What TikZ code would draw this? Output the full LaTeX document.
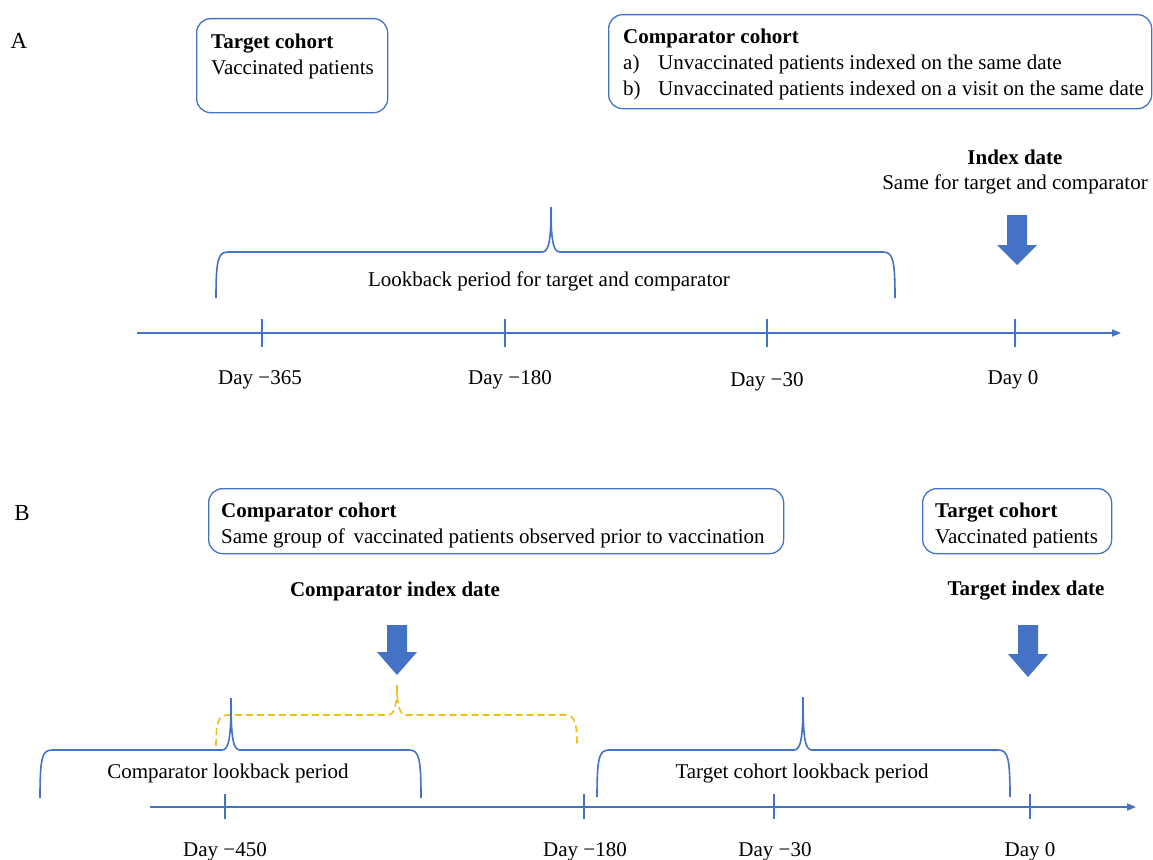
\documentclass[tikz,border=0pt]{standalone}
\usepackage{fontspec}
\setmainfont{Liberation Serif}
\usetikzlibrary{arrows.meta}
\definecolor{oblue}{HTML}{4472C4}
\definecolor{oyellow}{HTML}{F2BE16}
\tikzset{
  x=1pt,y=-1pt,
  txt/.style={font=\fontsize{21}{26}\selectfont, inner sep=0pt, text=black},
  btxt/.style={txt, font=\fontsize{21}{26}\selectfont\bfseries},
  cbox/.style={draw=oblue, line width=1.3pt, rounded corners=14pt},
  axis/.style={draw=oblue, line width=1.8pt, -{Triangle[length=9pt,width=7pt]}},
  tick/.style={draw=oblue, line width=1.5pt},
  brace/.style={draw=oblue, line width=1.6pt},
  ybrace/.style={draw=oyellow, line width=1.6pt, dash pattern=on 7pt off 4pt},
  barrow/.style={fill=oblue},
}
\newcommand{\bracepath}[6]{% xl yb yh xt yt xr
  (#1,#2) .. controls (#1,#3+8) and (#1+2,#3) .. (#1+12,#3) -- (#4-9,#3)
  .. controls (#4-2,#3) and (#4,#3-12) .. (#4,#5)
  .. controls (#4,#3-12) and (#4+2,#3) .. (#4+9,#3) -- (#6-12,#3)
  .. controls (#6-2,#3) and (#6,#3+8) .. (#6,#2)}
\newcommand{\blockarrow}[4]{% xc ytop yshaftend ytip
  (#1-10,#2) -- (#1+10,#2) -- (#1+10,#3) -- (#1+20,#3) -- (#1,#4) -- (#1-20,#3) -- (#1-10,#3) -- cycle}
\begin{document}
\begin{tikzpicture}
\useasboundingbox (0,0) rectangle (1153,859);
% ---------- Panel A ----------
\node[txt, font=\fontsize{23}{26}\selectfont] (labA) at (19,41) {A};
\node[cbox, minimum width=191pt, minimum height=94pt, anchor=north west] (tboxA) at (196,18) {};
\node[txt, anchor=north west, align=left] (ttxtA) at (211,34) {\textbf{Target cohort}\\Vaccinated patients};
\node[cbox, minimum width=543pt, minimum height=94pt, anchor=north west] (cboxA) at (608,14) {};
\node[txt, anchor=north west, align=left] (ctxtA) at (623,29) {\textbf{Comparator cohort}\\\makebox[35pt][l]{a)}Unvaccinated patients indexed on the same date\\\makebox[35pt][l]{b)}Unvaccinated patients indexed on a visit on the same date};
\node[btxt] (idxA) at (1015,157) {Index date};
\node[txt] (idxsubA) at (1015,184) {Same for target and comparator};
\fill[barrow] \blockarrow{1017}{215}{245}{265};
\draw[brace] \bracepath{216}{298}{252}{551}{207}{895};
\node[txt] (lbA) at (549,281) {Lookback period for target and comparator};
\coordinate (axAs) at (137,333);
\coordinate (axAe) at (1121,333);
\draw[axis] (axAs) -- (axAe);
\foreach \x/\n in {262/a1,505/a2,767/a3,1015/a4}{
  \coordinate (t\n) at (\x,333);
  \draw[tick] ([yshift=14pt]t\n) -- ([yshift=-14pt]t\n);
}
\node[txt] (dA1) at (260,380) {Day −365};
\node[txt] (dA2) at (510,380) {Day −180};
\node[txt] (dA3) at (767,382) {Day −30};
\node[txt] (dA4) at (1013,380) {Day 0};
% ---------- Panel B ----------
\node[txt, font=\fontsize{23}{26}\selectfont] (labB) at (22,513) {B};
\node[cbox, minimum width=575pt, minimum height=65pt, anchor=north west] (cboxB) at (208,488) {};
\node[txt, anchor=north west, align=left] (ctxtB) at (221,503) {\textbf{Comparator cohort}\\Same group of \,vaccinated patients observed prior to vaccination};
\node[cbox, minimum width=189pt, minimum height=65pt, anchor=north west] (tboxB) at (922,488) {};
\node[txt, anchor=north west, align=left] (ttxtB) at (935,503) {\textbf{Target cohort}\\Vaccinated patients};
\node[btxt] (cidxB) at (395,591) {Comparator index date};
\node[btxt] (tidxB) at (1026,591) {Target index date};
\fill[barrow] \blockarrow{397}{625}{652}{675};
\fill[barrow] \blockarrow{1028}{625}{654}{677};
\draw[ybrace] \bracepath{216}{746}{715}{397}{685}{577};
\draw[brace] \bracepath{40}{798}{750}{231}{698}{421};
\node[txt] (lbB1) at (228,773) {Comparator lookback period};
\draw[brace] \bracepath{597}{797}{750}{803}{697}{1010};
\node[txt] (lbB2) at (802,773) {Target cohort lookback period};
\coordinate (axBs) at (150,807);
\coordinate (axBe) at (1136,807);
\draw[axis] (axBs) -- (axBe);
\foreach \x/\n in {225/b1,584/b2,774/b3,1030/b4}{
  \coordinate (t\n) at (\x,807);
  \draw[tick] ([yshift=13pt]t\n) -- ([yshift=-12pt]t\n);
}
\node[txt] (dB1) at (225,852) {Day −450};
\node[txt] (dB2) at (585,852) {Day −180};
\node[txt] (dB3) at (775,852) {Day −30};
\node[txt] (dB4) at (1030,852) {Day 0};
\end{tikzpicture}
\end{document}
